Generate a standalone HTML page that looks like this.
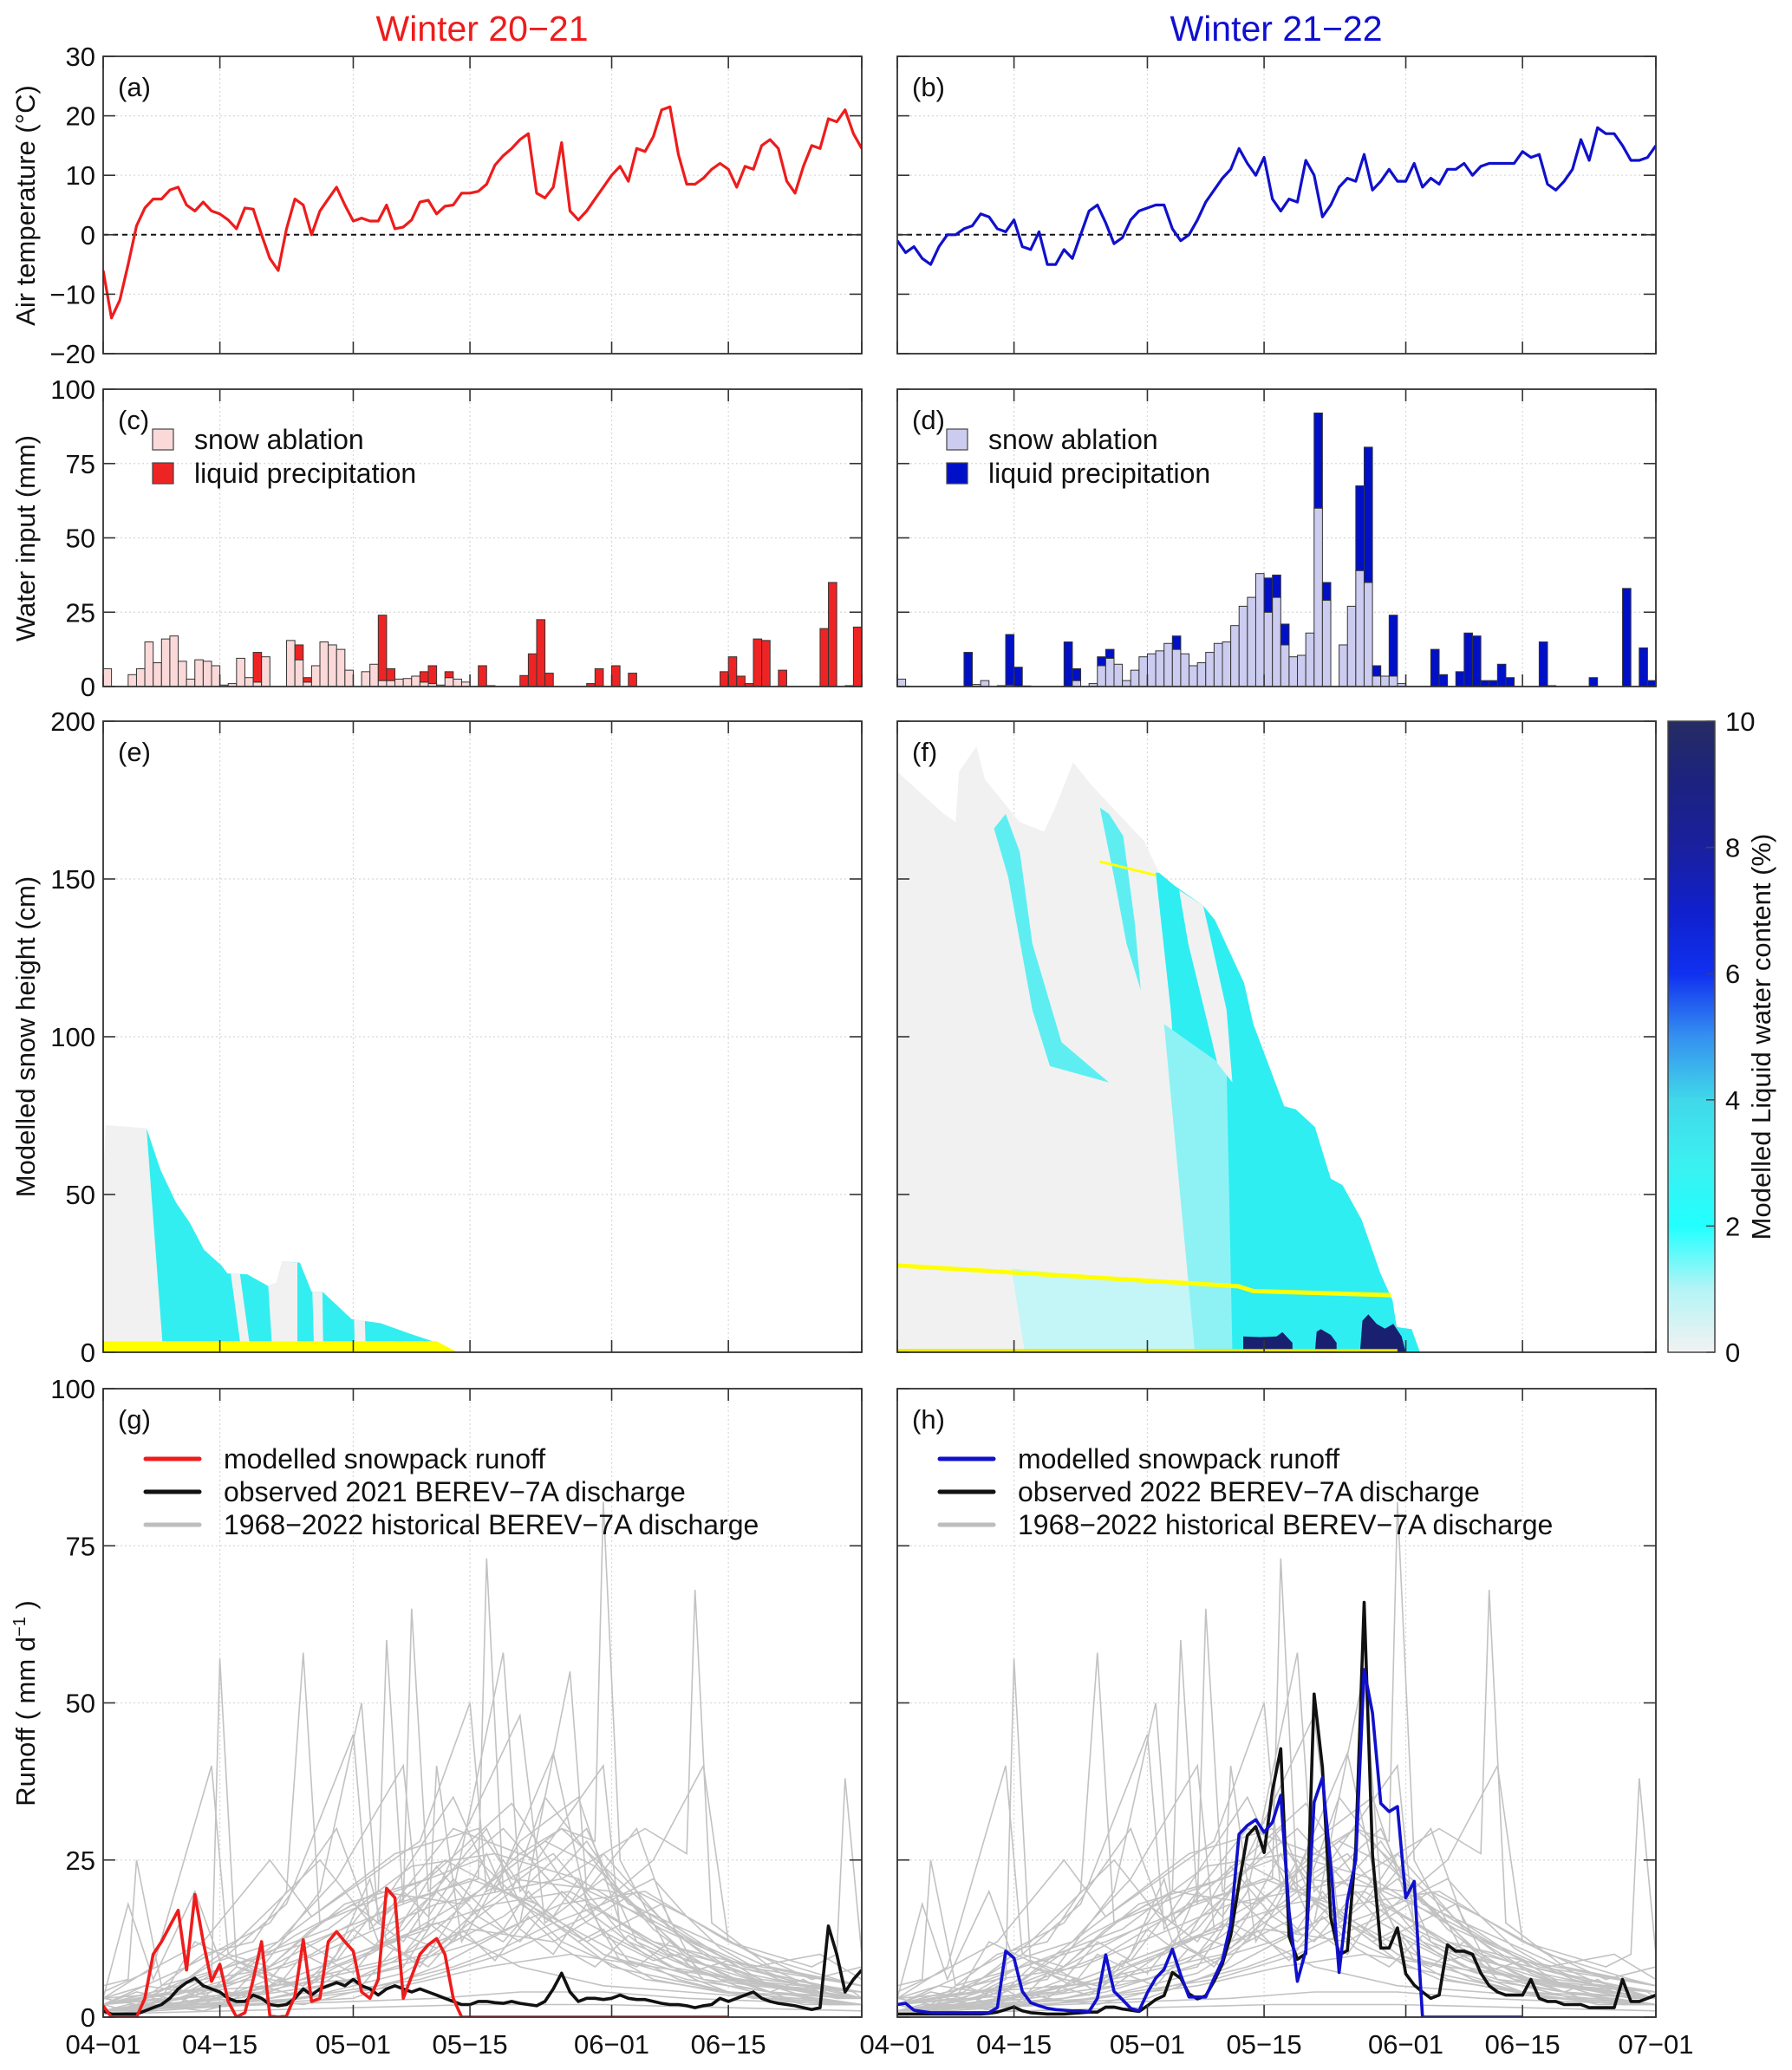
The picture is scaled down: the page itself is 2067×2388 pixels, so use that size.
<!DOCTYPE html>
<html><head><meta charset="utf-8">
<style>
html,body{margin:0;padding:0;background:#fff;}
svg{display:block;font-family:"Liberation Sans",Arial,sans-serif;}
</style></head>
<body>
<svg id="fig" xmlns="http://www.w3.org/2000/svg" width="2067" height="2388" viewBox="0 0 2067 2388">
<defs>
<linearGradient id="cbgrad" x1="0" y1="1" x2="0" y2="0">
<stop offset="0" stop-color="#f2f2f2"/><stop offset="0.1" stop-color="#b4f4f6"/><stop offset="0.2" stop-color="#22ffff"/><stop offset="0.3" stop-color="#3cf0f0"/><stop offset="0.4" stop-color="#40d8ea"/><stop offset="0.5" stop-color="#3590f0"/><stop offset="0.6" stop-color="#1030f0"/><stop offset="0.7" stop-color="#1020cc"/><stop offset="0.8" stop-color="#1a209e"/><stop offset="0.9" stop-color="#1c2280"/><stop offset="1" stop-color="#262c62"/>
</linearGradient>
</defs>
<text x="556" y="47" font-size="41" fill="#ee1c1c" text-anchor="middle">Winter 20−21</text>
<text x="1472" y="47" font-size="41" fill="#1010d0" text-anchor="middle">Winter 21−22</text>
</svg>
<script>
// ---------- data ----------
const xTickDays = [0,14,30,44,61,75,91];
const xTickLabels = ["04-01","04-15","05-01","05-15","06-01","06-15","07-01"];
const tempTicks = [30,20,10,0,-10,-20];
const waterTicks = [100,75,50,25,0];
const snowTicks = [200,150,100,50,0];
const runoffTicks = [100,75,50,25,0];
const cbTicks = [0,2,4,6,8,10];

const temp2021 = [-6,-14,-11,-5,1.5,4.5,6,6,7.5,8,5,4,5.5,4,3.5,2.5,1,4.5,4.3,0,-4,-6,1,6,5,0,4,6,8,5,2.3,2.8,2.3,2.3,5,1,1.3,2.5,5.5,5.8,3.5,4.8,5,7,7,7.3,8.5,11.7,13.3,14.5,16,17,7,6.2,8,15.5,4,2.5,4,6,8,10,11.5,9,14.5,14,16.5,21,21.5,13.5,8.5,8.5,9.5,11,12,11,8,11.5,11,15,16,14.5,9,7,11.5,15,14.5,19.5,19,21,17,14.5];
const temp2022 = [-1,-3,-2,-4,-5,-2,0,0,1,1.5,3.5,3,1,0.5,2.5,-2,-2.5,0.5,-5,-5,-2.5,-4,0,4,5,2,-1.5,-0.5,2.5,4,4.5,5,5,1,-1,0,2.5,5.5,7.5,9.5,11,14.5,12,10,13,6,4,6,5.5,12.5,10,3,5,8,9.5,9,13.5,7.5,9,11,9,9,12,8,9.5,8.5,11,11,12,10,11.5,12,12,12,12,14,13,13.5,8.5,7.5,9,11,16,12.5,18,17,17,15,12.5,12.5,13,15];

const snowAbl2021 = [6,0,0,4,6,15,8,16,17,8.5,2.5,9,8.5,7,0.5,1,9.5,3,1.5,10,0,0,15.5,9,1.5,7,15,14,12.5,5.5,0,5,7.5,2,2,2.5,2.7,3.5,1.5,1,0.5,3,2.5,1.5,0,0,0,0,0,0,0,0,0,0,0,0,0,0,0,0,0,0,0,0,0,0,0,0,0,0,0,0,0,0,0,0,0,0,0,0,0,0,0,0,0,0,0,0,0,0,0];
const liqPr2021 = [0,0,0,0,0,0,0,0,0,0,0,0,0,0,0,0,0,0,10,0,0,0,0,5,1.5,0,0,0,0,0,0,0,0,22,4,0,0,0,3.5,6,0,2,0,0,0,7,0.3,0,0,0,3.7,11,22.5,4.5,0,0,0,0,1,6,0,7,0,4.5,0,0,0,0,0,0,0,0,0,0,5,10,3.5,1,16,15.5,0,5.5,0,0,0,0,19.5,35,0,0.3,20];
const snowAbl2022 = [2.5,0,0,0,0,0,0,0,0,0.7,2,0,0.3,0.5,0,0.2,0,0,0,0,0,2,0,1,7,9.5,7.5,2,5.5,10,11,12,14.5,12.5,11,7,8,11.5,14.5,15,20.5,27,30,38,25,30,14,10,10.5,18,60,29,0,14,27,39,35,3.5,3.5,3.5,1,0,0,0,0,0,0,0,0,0,0,0,0,0,0,0,0,0,0,0,0,0,0,0,0,0,0,0,0,0,0];
const liqPr2022 = [0,0,0,0,0,0,0,0,11.5,0,0,0,0,17,6.5,0,0,0,0,0,15,4,0,0,3,3,0,0,0,0,0,0,0,4.5,0,0,0,0,0,0,0,0,0,0,11.5,7.5,7,0,0,0,32,6,0,0,0,28.5,45.5,3.5,0,20.5,0,0,0,0,12.5,4,0,5,18,17,2,2,7.5,3,0,0,0,15,0.3,0,0,0,0,3,0,0,0,33,0,13,2];

const snowE = [[0,56],[0.3,72],[5.2,71],[6.9,57.7],[8.7,47.6],[10.4,41],[12.1,32.5],[14.2,27.5],[14.9,25],[17.3,24.7],[19.8,21],[20.8,22],[21.5,28.8],[23.6,28.4],[25,19.2],[26.3,19.2],[29.8,10.5],[33.3,9.2],[36.7,6],[39.5,3.5],[42.5,0],[0,0]];
const wetE = [[5.2,71],[6.9,57.7],[8.7,47.6],[10.4,41],[12.1,32.5],[14.2,27.5],[14.9,25],[17.3,24.7],[19.8,21],[20.8,22],[21.5,28.8],[23.6,28.4],[25,19.2],[26.3,19.2],[29.8,10.5],[33.3,9.2],[36.7,6],[39.5,3.5],[42.5,0],[7.2,0]];
const dryStripsE = [
 [[15.3,25],[16.4,25],[17.7,0],[16.6,0]],
 [[19.8,21],[20.8,22],[21.5,28.8],[23.3,28.4],[23.3,0],[20.3,0]],
 [[25.1,19.2],[26.3,19.2],[26.4,0],[25.3,0]],
 [[30.1,10.4],[31.4,10],[31.5,0],[30.2,0]]];
const yellowE = [[0,3.5],[40,3.5],[42.5,0],[0,0]];

const snowF = [[0,184],[5.6,170.6],[7,168],[7.4,184],[9.5,192],[10.5,181.6],[14.7,168],[17.6,165],[19,173],[21.1,187],[23.2,180],[29.6,162],[31.4,152],[33.2,148],[36.7,141.5],[38.1,137],[41.6,117],[42.7,104],[46.4,78],[47.8,77],[50.1,71.4],[52,55],[53.4,53],[55.7,42],[58,24.7],[59.4,16.5],[59.9,8],[61.7,7.3],[62.7,0],[0,0]];
const wetStreakA = [[11.6,166],[13.3,150.6],[16.2,108.5],[18.3,90.7],[25.4,85.5],[19.7,98.3],[16.2,129.5],[14.7,158.6],[13,170.6]];
const wetStreakB = [[24.3,172.6],[26,150.6],[27.5,129.5],[29.2,114.8],[28.5,136],[27.1,163.6],[25.4,170.6]];
const wetMain = [[31,152],[31.4,152],[33.2,148],[36.7,141.5],[38.1,137],[41.6,117],[42.7,104],[46.4,78],[47.8,77],[50.1,71.4],[52,55],[53.4,53],[55.7,42],[58,24.7],[59.4,16.5],[59.9,8],[61.7,7.3],[62.7,0],[35.7,0],[34.6,45.4],[32.8,108.5]];
const paleF = [[13.7,26.5],[35.7,21],[35.7,0],[15.3,0]];
const paleBandF = [[32,104],[39.5,90],[40.2,0],[35.7,0]];
const dryWedgeF = [[33.8,146.5],[36.7,141.5],[39.5,108.5],[40.2,85.5],[38.4,91.6],[34.9,129.5]];
const navyF = [[41.5,0],[41.5,5],[43.5,4.8],[45.5,5],[46.2,6.4],[47.4,3],[47.4,0]];
const navyF2 = [[50.1,0],[50.3,6.5],[50.8,7.3],[52,5.5],[52.7,3],[52.7,0]];
const navyF3 = [[55.5,0],[55.8,10],[56.5,12],[57.5,9],[58.5,7.5],[59.5,9],[60.5,5],[61,0]];
const yellowLineF = [[0,27.5],[40.9,20.9],[42.7,19.4],[59.2,18.1]];
const yellowTopF = [[24.3,155.5],[31,151.2]];

const runModel2021 = [1.8,0,0,0,0,3,10,12,14.5,17,7.5,19.5,12,5.7,8.4,2.5,0,0.7,6,12,0.2,0,0.2,3.4,12.3,2.5,3,12,13.6,12,10.5,4,3,6,20.5,19,3,6.5,10,11.5,12.5,10,3,0,0,0,0,0,0,0,0,0,0,0,0,0,0,0,0,0,0,0,0,0,0,0,0,0,0,0,0,0,0,0,0,0];
const runObs2021 = [1,0.5,0.5,0.5,0.5,1,1.5,2,3,4.5,5.5,6.2,5,4.5,4,3,2.5,2.5,3.5,3,2,1.8,2,3,4.5,3.5,4.5,5,5.5,5,6,5,4.5,3.5,4.5,5,4.5,4,4.5,4,3.5,3,2.5,2,2,2.5,2.5,2.3,2.2,2.5,2.2,2,1.8,2.5,4.5,7,4,2.5,3,3,2.8,3,3.5,3,2.8,2.8,2.5,2.2,2,2,1.8,1.5,1.8,2,3,2.5,3,3.5,4,3,2.5,2.2,2,1.8,1.5,1.2,1.5,14.5,10,4,6,7.5];
const runModel2022 = [2,2.2,1.1,0.9,0.7,0.7,0.7,0.7,0.7,0.7,0.7,0.7,1.5,10.5,9.4,4.1,2.3,1.8,1.4,1.2,1.1,1,1,0.9,3,9.9,4.1,2.8,1.4,1,3.9,6.2,7.6,10.8,6.7,3.2,3.2,3.2,6.2,9,14.9,29.1,30.5,31.4,29.4,31,35.3,16.8,5.7,10.6,34.2,38.1,24.1,7.1,18.6,25,55.3,48.4,34,32.7,33.5,19,21.6,0,0,0,0,0,0,0,0,0,0,0,0,0];
const runObs2022 = [0.5,0.5,0.5,0.5,0.5,0.5,0.5,0.5,0.5,0.5,0.5,0.6,0.8,1.2,1.6,1,0.7,0.6,0.5,0.5,0.5,0.6,0.7,0.8,0.8,1.6,1.6,1.3,1.1,0.9,1.8,2.8,3.4,7.1,6.2,3.7,2.9,3.4,5.7,8.5,13,21.3,28.9,30.3,26.2,36,42.7,12.9,9.2,10.1,51.4,39.7,15.8,9.9,10.6,26.9,66,25.9,11,11,14.2,6.9,5.1,4,3,3.5,11.5,10.5,10.5,10,7,5,4,3.5,3.5,3.5,6,3,2.5,2.5,2,2,2,1.5,1.5,1.5,1.5,6,2.5,2.5,3,3.5];

const hist01=[0,3,5,5,10,4,13,6,14,57,16,8,22,6,30,10,40,15,50,8,60,5,70,4,80,3,91,2];
const hist02=[0,2,6,4,12,10,18,12,22,20,24,58,26,15,35,20,45,25,55,12,65,6,75,4,91,3];
const hist03=[0,5,3,6,4,25,7,5,15,8,25,12,36,18,37,65,39,20,48,30,58,15,68,8,80,5,91,4];
const hist04=[0,1,10,3,20,8,30,15,33,20,34,60,36,18,44,22,52,18,60,10,70,6,85,3,91,2];
const hist05=[0,2,15,5,25,10,35,18,45,22,46,73,48,20,55,15,62,10,72,6,91,3];
const hist06=[0,1,20,4,35,12,45,20,55,30,59,28,60,82,62,25,68,10,80,5,91,4];
const hist07=[0,2,12,6,22,8,40,18,55,22,65,30,70,26,71,68,73,15,80,8,91,5];
const hist08=[0,3,30,6,45,12,55,18,65,20,75,12,85,8,88,10,89,38,91,10];
const hist09=[0,1,10,2,20,5,30,10,39,14,40,40,43,12,50,28,57,35,62,15,70,8,80,4,91,3];
const hist10=[0,2,8,4,16,12,26,25,32,15,42,35,47,20,54,42,58,18,66,12,76,6,91,4];
const hist11=[0,1,14,3,24,6,34,9,44,14,54,12,64,20,70,16,78,10,88,6,91,5];
const hist12=[0,2,10,8,20,15,28,30,33,12,40,20,50,48,53,15,60,22,70,10,82,6,91,4];
const hist13=[0,1,18,2,28,4,38,6,48,10,58,16,66,25,72,40,75,12,85,6,91,8];
const hist14=[0,3,6,8,13,40,15,10,22,18,30,45,32,14,41,25,51,18,61,8,75,4,91,2];
const hist15=[0,1,16,2,30,3,40,8,50,15,56,55,58,20,64,30,68,15,76,8,90,4,91,3];
const hist16=[0,2,9,3,19,4,29,7,39,10,49,20,53,35,57,28,63,18,73,12,83,6,91,3];
const hist17=[0,1,12,2,24,3,36,5,46,8,56,10,66,8,76,6,86,4,91,3];
const hist18=[0,4,5,7,12,12,20,25,25,16,38,28,44,50,46,20,54,26,63,12,72,7,91,3];
const hist19=[0,2,18,6,26,20,31,50,33,15,42,30,52,25,60,40,62,14,70,9,84,5,91,4];
const hist20=[0,1,8,2,16,3,26,5,36,14,46,30,50,18,58,12,67,18,71,8,80,4,91,2];
const hist21=[0,1,10,1.5,20,2,30,2.5,40,3,50,4,60,4,70,3,80,2.5,91,2];
const hist22=[0,0.5,15,1,30,1.5,45,2,60,2,75,1.5,91,1];
const hist23=[0,3,3,18,6,6,11,20,14,9,21,12,28,22,36,40,38,14,47,18,56,20,66,12,78,8,86,10,91,6];
const hist24=[0,1,20,3,36,8,42,20,48,58,50,20,58,30,64,12,74,6,91,3];
const hist25=[0,2,9,5,17,9,27,14,37,24,47,26,57,22,67,14,77,8,91,5];
const hist26=[0,1,13,4,23,13,33,20,43,18,53,28,59,24,69,11,79,6,91,4];
const hist27=[0,2,7,3,11,12,19,7,29,18,39,22,49,34,55,22,65,16,75,9,91,5];
const hist28=[0,1,5,2,15,6,25,16,35,26,45,30,49,22,61,20,71,12,81,6,91,3];
const hist29=[0,1,3,2,6,1.5,9,3,12,2,15,4,18,3,21,6,24,5,27,9,30,7,33,12,36,10,39,15,42,12,45,18,48,14,51,20,54,15,57,12,60,14,63,9,66,8,69,6,72,5,75,4,78,3,81,3,84,2,87,2,91,2];
const hist30=[0,2,3,1,6,3,9,2,12,5,15,3,18,7,21,5,24,10,27,8,30,14,33,11,36,20,39,16,42,22,45,18,48,25,51,19,54,16,57,22,60,13,63,11,66,9,69,10,72,6,75,5,78,4,81,3,84,3,87,2,91,2];
const hist31=[0,1,4,1,8,2,12,3,16,4,20,6,24,5,28,8,32,10,36,13,40,11,44,16,48,20,52,24,56,18,60,26,64,20,68,14,72,10,76,7,80,5,84,4,88,3,91,3];
const hist32=[0,3,4,2,8,5,12,3,16,8,20,6,24,12,28,9,32,16,36,12,40,20,44,15,48,12,52,18,56,14,60,10,64,8,68,12,72,7,76,5,80,4,84,6,88,3,91,3];
const hist33=[0,1,5,1,10,2,15,2,20,3,25,4,30,6,35,9,40,14,45,20,50,26,55,30,60,24,65,18,70,12,75,8,80,5,85,4,91,3];
const hist34=[0,2,5,3,10,6,15,10,20,8,25,14,30,18,35,13,40,24,45,16,50,12,55,20,60,15,65,10,70,7,75,9,80,5,85,3,91,2];
const hist35=[0,1,3,1.5,7,2,11,4,15,2.5,19,5,23,3.5,27,7,31,5,35,11,39,8,43,14,47,9,51,16,55,11,59,8,63,13,67,9,71,6,75,4,79,3,83,2.5,87,2,91,2];
const hist36=[0,0.5,6,1,12,1.5,18,2,24,3,30,5,36,7,42,12,48,16,54,22,58,28,62,20,66,14,70,10,74,7,78,5,82,3,86,3,91,2];
const hist37=[0,2,4,4,8,3,12,6,16,9,20,7,24,4,28,10,32,22,34,12,38,8,42,16,46,26,50,14,54,10,58,18,62,9,66,6,70,5,74,4,80,3,91,2];
const hist38=[0,1,6,2,12,1,18,3,24,2,30,4,36,6,42,8,48,11,54,15,60,18,66,22,70,16,74,11,78,8,82,6,86,4,91,3];
const histYears=[hist01,hist02,hist03,hist04,hist05,hist06,hist07,hist08,hist09,hist10,hist11,hist12,hist13,hist14,hist15,hist16,hist17,hist18,hist19,hist20,hist21,hist22,hist23,hist24,hist25,hist26,hist27,hist28,hist29,hist30,hist31,hist32,hist33,hist34,hist35,hist36,hist37,hist38];

// ---------- drawing ----------
const NS="http://www.w3.org/2000/svg";
const svg=document.getElementById('fig');
const NDAYS=91;
const P={a:[119,994,65,408,-20,30],b:[1035,1910,65,408,-20,30],c:[119,994,449,792,0,100],d:[1035,1910,449,792,0,100],e:[119,994,832,1560,0,200],f:[1035,1910,832,1560,0,200],g:[119,994,1602,2327,0,100],h:[1035,1910,1602,2327,0,100]};
function X(p,d){return p[0]+d*(p[1]-p[0])/NDAYS;}
function Y(p,v){return p[3]-(v-p[4])/(p[5]-p[4])*(p[3]-p[2]);}
function el(tag,attrs,parent){const e=document.createElementNS(NS,tag);for(const k in attrs)e.setAttribute(k,attrs[k]);(parent||svg).appendChild(e);return e;}
function clip(id,p){const c=el('clipPath',{id:id});el('rect',{x:p[0],y:p[2],width:p[1]-p[0],height:p[3]-p[2]},c);svg.querySelector('defs').appendChild(c);}

function grid(key,yticks){
  const p=P[key];
  const g=el('g',{});
  
  
  xTickDays.forEach(d=>{if(d>0&&d<NDAYS){el('line',{x1:X(p,d),x2:X(p,d),y1:p[2],y2:p[3],stroke:'#d8d8d8','stroke-width':1.2,'stroke-dasharray':'2,3'},g);}});
  yticks.forEach(v=>{if(v>p[4]&&v<p[5]){el('line',{x1:p[0],x2:p[1],y1:Y(p,v),y2:Y(p,v),stroke:'#d8d8d8','stroke-width':1.2,'stroke-dasharray':'2,3'},g);}});
}
function frame(key,yticks,showY,showX){
  const p=P[key];
  const g=el('g',{});
  
  
  el('rect',{x:p[0],y:p[2],width:p[1]-p[0],height:p[3]-p[2],fill:'none',stroke:'#333','stroke-width':1.8},g);
  xTickDays.forEach(d=>{
    el('line',{x1:X(p,d),x2:X(p,d),y1:p[3],y2:p[3]-14,stroke:'#333','stroke-width':1.6},g);
    el('line',{x1:X(p,d),x2:X(p,d),y1:p[2],y2:p[2]+14,stroke:'#333','stroke-width':1.6},g);
  });
  yticks.forEach(v=>{
    el('line',{x1:p[0],x2:p[0]+14,y1:Y(p,v),y2:Y(p,v),stroke:'#333','stroke-width':1.6},g);
    el('line',{x1:p[1],x2:p[1]-14,y1:Y(p,v),y2:Y(p,v),stroke:'#333','stroke-width':1.6},g);
    if(showY){const t=el('text',{x:p[0]-9,y:Y(p,v)+11,'font-size':31,'text-anchor':'end',fill:'#111'},g);t.textContent=String(v).replace('-','−');
      
      }
  });
  if(showX){xTickDays.forEach((d,i)=>{
    if(key==='g'&&i===xTickDays.length-1)return;
    const t=el('text',{x:X(p,d),y:p[3]+42,'font-size':31,'text-anchor':'middle',fill:'#111'},g);t.textContent=xTickLabels[i].replace('-','−');
    
    
  });}
}
function panelLabel(key,txt){
  const p=P[key];
  const t=el('text',{x:p[0]+17,y:p[2]+46,'font-size':31,fill:'#111'});
  t.textContent=txt;
  
  
}
function ytitle(x,y,txt,name){
  const t=el('text',{x:x,y:y,'font-size':31,'text-anchor':'middle',fill:'#111',transform:`rotate(-90 ${x} ${y})`});
  t.textContent=txt;
  
  
  return t;
}
function line(key,vals,color,w,name){
  const p=P[key];
  const pts=vals.map((v,i)=>X(p,i).toFixed(1)+','+Y(p,v).toFixed(1)).join(' ');
  const l=el('polyline',{points:pts,fill:'none',stroke:color,'stroke-width':w,'stroke-linejoin':'round','clip-path':'url(#clip-'+key+')'});
  
  
  return l;
}
function poly(key,pts,fill,name){
  const p=P[key];
  const e=el('polygon',{points:pts.map(q=>X(p,q[0]).toFixed(1)+','+Y(p,q[1]).toFixed(1)).join(' '),fill:fill,'clip-path':'url(#clip-'+key+')'});
  
  
  return e;
}
function pline(key,pts,color,w,name){
  const p=P[key];
  const e=el('polyline',{points:pts.map(q=>X(p,q[0]).toFixed(1)+','+Y(p,q[1]).toFixed(1)).join(' '),fill:'none',stroke:color,'stroke-width':w,'clip-path':'url(#clip-'+key+')'});
  
  
}
function bars(key,snow,liq,snowCol,liqCol){
  const p=P[key];const w=(p[1]-p[0])/NDAYS;
  snow.forEach((s,i)=>{
    const l=liq[i]||0;
    if(s>0){const r=el('rect',{x:X(p,i),y:Y(p,s),width:w,height:Y(p,0)-Y(p,s),fill:snowCol,stroke:'#333','stroke-width':1});
      
      }
    if(l>0){const r=el('rect',{x:X(p,i),y:Y(p,s+l),width:w,height:Y(p,s)-Y(p,s+l),fill:liqCol,stroke:'#333','stroke-width':1});
      
      }
  });
}
function legendBox(x,y,col,txt,name){
  const r=el('rect',{x:x,y:y-12,width:24,height:24,fill:col,stroke:'#444','stroke-width':1.2});
  
  
  const t=el('text',{x:x+48,y:y+11,'font-size':32,fill:'#111'});t.textContent=txt;
  
  
}
function legendLine(x,y,col,txt,name){
  const l=el('line',{x1:x,x2:x+62,y1:y,y2:y,stroke:col,'stroke-width':5,'stroke-linecap':'round'});
  
  
  const t=el('text',{x:x+90,y:y+11,'font-size':32,fill:'#111'});t.textContent=txt;
  
  
}

Object.keys(P).forEach(k=>clip('clip-'+k,P[k]));

['a','b'].forEach(k=>grid(k,tempTicks));
['a','b'].forEach(k=>{const p=P[k];const z=el('line',{x1:p[0],x2:p[1],y1:Y(p,0),y2:Y(p,0),stroke:'#111','stroke-width':2,'stroke-dasharray':'6,5'});
  
  });
line('a',temp2021,'#ee1c1c',3.2,'temperature-line-2021');
line('b',temp2022,'#1010cc',3.2,'temperature-line-2022');
frame('a',tempTicks,true,false);frame('b',tempTicks,false,false);
panelLabel('a','(a)');panelLabel('b','(b)');
ytitle(40,237,'Air temperature (°C)','y-axis-title-temperature');

['c','d'].forEach(k=>grid(k,waterTicks));
bars('c',snowAbl2021,liqPr2021,'#fbd9d9','#ee2424');
bars('d',snowAbl2022,liqPr2022,'#ccccf0','#0010c8');
frame('c',waterTicks,true,false);frame('d',waterTicks,false,false);
panelLabel('c','(c)');panelLabel('d','(d)');
legendBox(176,507,'#fbd9d9','snow ablation','legend-snow-ablation-c');
legendBox(176,546,'#ee2424','liquid precipitation','legend-liquid-precip-c');
legendBox(1092,507,'#ccccf0','snow ablation','legend-snow-ablation-d');
legendBox(1092,546,'#0010c8','liquid precipitation','legend-liquid-precip-d');
ytitle(40,621,'Water input (mm)','y-axis-title-water-input');

['e','f'].forEach(k=>grid(k,snowTicks));
poly('e',snowE,'#f1f1f1','snowpack-dry-e');
poly('e',wetE,'#33eef0','snowpack-wet-e');
dryStripsE.forEach(s=>poly('e',s,'#f1f1f1','dry-strip-e'));
poly('e',yellowE,'#ffff00','yellow-layer-e');
poly('f',snowF,'#f1f1f1','snowpack-dry-f');
poly('f',paleF,'#c4f5f7','snowpack-pale-f');
poly('f',wetStreakA,'#5eeef2','wet-streak-a-f');
poly('f',wetStreakB,'#5eeef2','wet-streak-b-f');
poly('f',wetMain,'#2eeef2','snowpack-wet-f');
poly('f',paleBandF,'#8ef2f4','pale-band-f');
poly('f',dryWedgeF,'#f1f1f1','dry-wedge-f');
poly('f',navyF,'#1a2070','high-lwc-f-1');
poly('f',navyF2,'#1a2070','high-lwc-f-2');
poly('f',navyF3,'#1a2070','high-lwc-f-3');
pline('f',yellowLineF,'#ffff00',5,'yellow-line-f');
pline('f',yellowTopF,'#ffff00',3,'yellow-line-top-f');
pline('f',[[0,0.6],[60,0.6]],'#e8e800',3,'yellow-base-f');
frame('e',snowTicks,true,false);frame('f',snowTicks,false,false);
panelLabel('e','(e)');panelLabel('f','(f)');
ytitle(40,1196,'Modelled snow height (cm)','y-axis-title-snow-height');

{const cb=el('rect',{x:1924,y:832,width:54,height:728,fill:'url(#cbgrad)',stroke:'#444','stroke-width':1.5});


cbTicks.forEach(v=>{const y=1560-v/10*728;
  el('line',{x1:1978,x2:1968,y1:y,y2:y,stroke:'#444','stroke-width':1.5});
  const t=el('text',{x:1990,y:y+11,'font-size':31,fill:'#111'});t.textContent=v;
  
  });
ytitle(2042,1196,'Modelled Liquid water content (%)','colorbar-title');}

['g','h'].forEach(k=>grid(k,runoffTicks));
['g','h'].forEach(k=>{const p=P[k];histYears.forEach(h=>{
  const pts=[];for(let i=0;i<h.length;i+=2)pts.push(X(p,h[i]).toFixed(1)+','+Y(p,h[i+1]).toFixed(1));
  const l=el('polyline',{points:pts.join(' '),fill:'none',stroke:'#c2c2c2','stroke-width':1.6,'clip-path':'url(#clip-'+k+')'});
  
  });});
line('g',runObs2021,'#111',3.6,'observed-discharge-2021');
line('g',runModel2021,'#ee1c1c',3.6,'modelled-runoff-2021');
line('h',runObs2022,'#111',3.6,'observed-discharge-2022');
line('h',runModel2022,'#1010cc',3.6,'modelled-runoff-2022');
frame('g',runoffTicks,true,true);frame('h',runoffTicks,false,true);
panelLabel('g','(g)');panelLabel('h','(h)');
legendLine(168,1683,'#ee1c1c','modelled snowpack runoff','legend-modelled-g');
legendLine(168,1721,'#111','observed 2021 BEREV−7A discharge','legend-observed-g');
legendLine(168,1759,'#bdbdbd','1968−2022 historical BEREV−7A discharge','legend-historical-g');
legendLine(1084,1683,'#1010cc','modelled snowpack runoff','legend-modelled-h');
legendLine(1084,1721,'#111','observed 2022 BEREV−7A discharge','legend-observed-h');
legendLine(1084,1759,'#bdbdbd','1968−2022 historical BEREV−7A discharge','legend-historical-h');
{const t=ytitle(40,1965,'','y-axis-title-runoff');
 const a=document.createElementNS(NS,'tspan');a.textContent='Runoff ( mm d';t.appendChild(a);
 const b=document.createElementNS(NS,'tspan');b.setAttribute('dy','-11');b.setAttribute('font-size','20');b.textContent='−1';t.appendChild(b);
 const c=document.createElementNS(NS,'tspan');c.setAttribute('dy','11');c.textContent=' )';t.appendChild(c);}
</script>
</body></html>
